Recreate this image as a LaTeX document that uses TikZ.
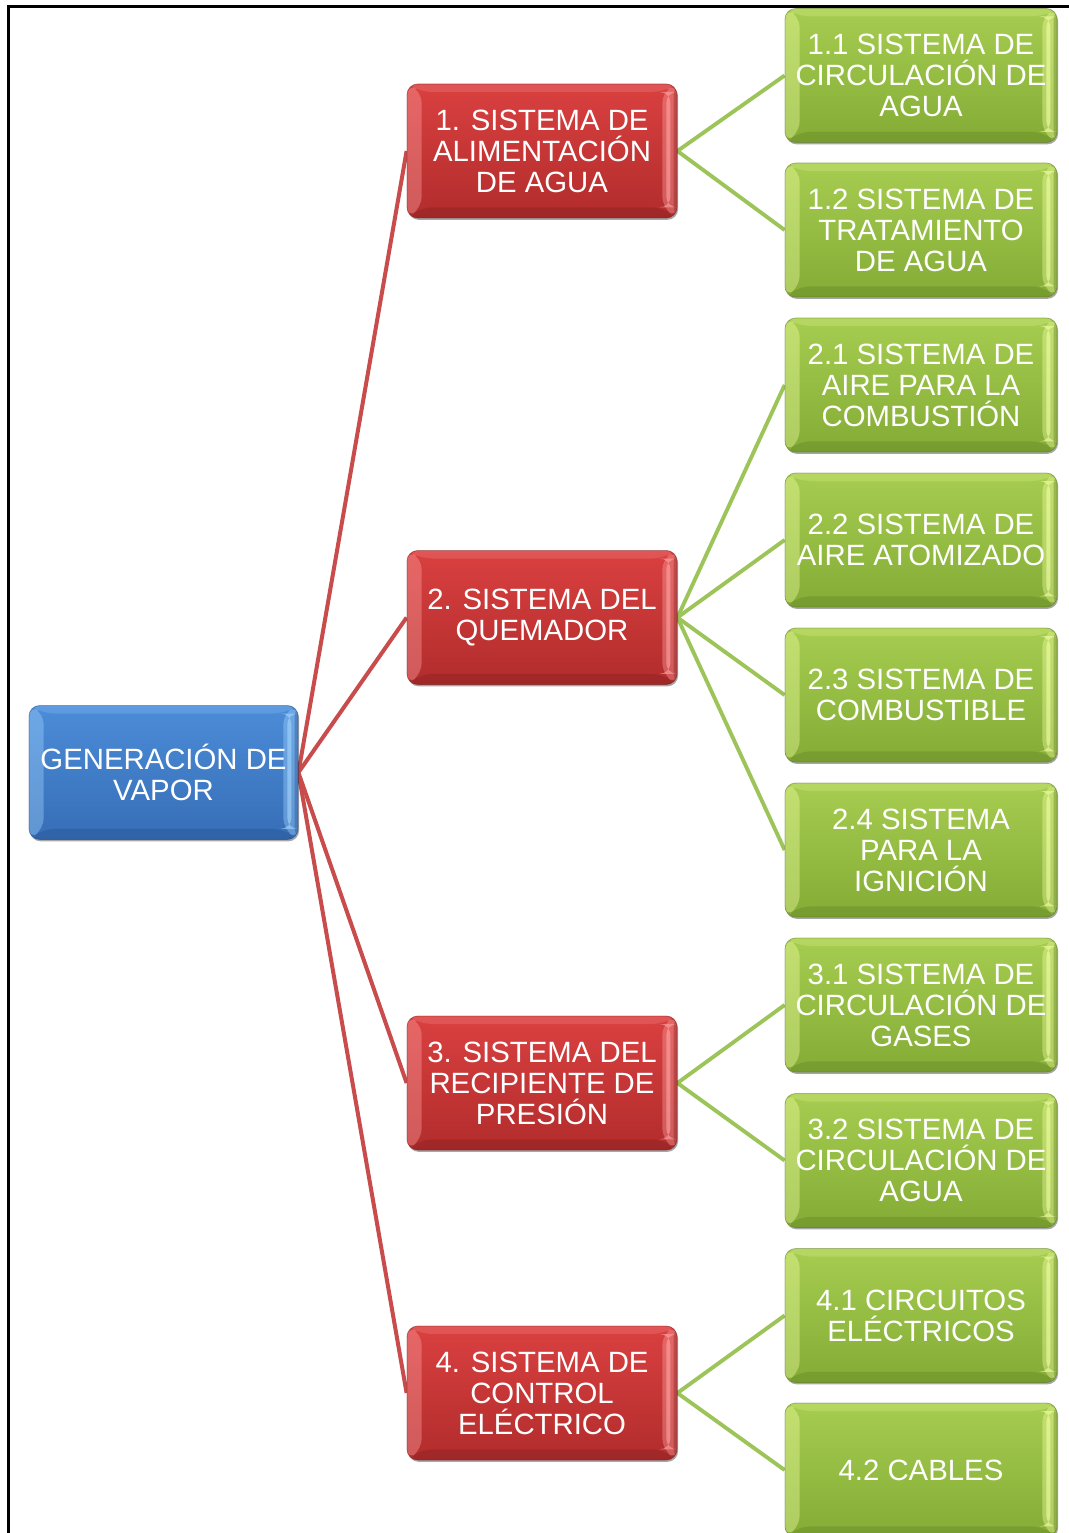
\documentclass[tikz,border=0pt]{standalone}
\usepackage{fontspec}
\setmainfont{Liberation Sans}
\usetikzlibrary{shadows,backgrounds}

\definecolor{bluetop}{RGB}{76,140,216}
\definecolor{bluebot}{RGB}{54,110,182}
\definecolor{bluehl}{RGB}{160,210,252}
\definecolor{bluedk}{RGB}{30,70,130}
\definecolor{redtop}{RGB}{218,64,64}
\definecolor{redbot}{RGB}{178,44,44}
\definecolor{redhl}{RGB}{252,160,160}
\definecolor{reddk}{RGB}{115,28,28}
\definecolor{greentop}{RGB}{166,205,80}
\definecolor{greenbot}{RGB}{132,172,54}
\definecolor{greenhl}{RGB}{238,252,160}
\definecolor{greendk}{RGB}{85,115,28}
\definecolor{redline}{RGB}{200,76,76}
\definecolor{greenline}{RGB}{156,196,88}

\tikzset{
  x=0.75pt, y=-0.75pt,
  % bevelled, shaded box: top colour, bottom colour, highlight, dark edge
  bevel/.style n args={4}{
    rounded corners=8pt, top color=#1, bottom color=#2,
    draw=#4, draw opacity=0.45, line width=0.6pt,
    minimum height=100.5pt, inner sep=0pt, align=center, text=white,
    font=\fontsize{22}{23.25}\selectfont,
    drop shadow={shadow xshift=0.8pt, shadow yshift=-1.4pt, opacity=0.35, fill=black},
    path picture={
      \path (path picture bounding box.north west) coordinate (pNW)
            (path picture bounding box.north east) coordinate (pNE)
            (path picture bounding box.south west) coordinate (pSW)
            (path picture bounding box.south east) coordinate (pSE);
      \fill[#3, opacity=0.22] (pNW) -- (pNE) -- ([shift={(-11pt,-6pt)}]pNE)
            -- ([shift={(11pt,-6pt)}]pNW) -- cycle;
      \fill[#3, opacity=0.40] (pNW) -- (pSW) -- ([shift={(11pt,8pt)}]pSW)
            -- ([shift={(11pt,-6pt)}]pNW) -- cycle;
      \fill[#4, opacity=0.28] (pSW) -- (pSE) -- ([shift={(-11pt,8pt)}]pSE)
            -- ([shift={(11pt,8pt)}]pSW) -- cycle;
      \fill[#3, opacity=0.40] (pNE) -- (pSE) -- ([shift={(-11pt,8pt)}]pSE)
            -- ([shift={(-11pt,-6pt)}]pNE) -- cycle;
      \fill[#3, opacity=0.65] ([shift={(-8pt,-6pt)}]pNE) rectangle ([shift={(-5pt,8pt)}]pSE);
      \fill[#4, opacity=0.35] ([xshift=-2.5pt]pNE) rectangle (pSE);
    }},
  rootbox/.style={bevel={bluetop}{bluebot}{bluehl}{bluedk}, minimum width=201.75pt},
  sysbox/.style={bevel={redtop}{redbot}{redhl}{reddk}, minimum width=202.5pt},
  subbox/.style={bevel={greentop}{greenbot}{greenhl}{greendk}, minimum width=204pt},
  redlink/.style={draw=redline, line width=3pt},
  greenlink/.style={draw=greenline, line width=2.9pt},
}

\begin{document}
\begin{tikzpicture}
\useasboundingbox (0,0) rectangle (1068,1533);

% frame: top and left rule
\draw[line width=2.4pt, line join=miter] (8.5,1540) -- (8.5,6.5) -- (1075,6.5);

% root
\node[rootbox] (root) at (163.5,772.5) {GENERACIÓN DE\\VAPOR};

% main systems
\node[sysbox] (s1) at (542,151)    {1. SISTEMA DE\\ALIMENTACIÓN\\DE AGUA};
\node[sysbox] (s2) at (542,617.5)  {2. SISTEMA DEL\\QUEMADOR};
\node[sysbox] (s3) at (542,1083)   {3. SISTEMA DEL\\RECIPIENTE DE\\PRESIÓN};
\node[sysbox] (s4) at (542,1393)   {4. SISTEMA DE\\CONTROL\\ELÉCTRICO};

% subsystems
\node[subbox] (s11) at (921,75.5)   {1.1 SISTEMA DE\\CIRCULACIÓN DE\\AGUA};
\node[subbox] (s12) at (921,230)    {1.2 SISTEMA DE\\TRATAMIENTO\\DE AGUA};
\node[subbox] (s21) at (921,385)    {2.1 SISTEMA DE\\AIRE PARA LA\\COMBUSTIÓN};
\node[subbox] (s22) at (921,540)    {2.2 SISTEMA DE\\AIRE ATOMIZADO};
\node[subbox] (s23) at (921,695)    {2.3 SISTEMA DE\\COMBUSTIBLE};
\node[subbox] (s24) at (921,850)    {2.4 SISTEMA\\PARA LA\\IGNICIÓN};
\node[subbox] (s31) at (921,1005)   {3.1 SISTEMA DE\\CIRCULACIÓN DE\\GASES};
\node[subbox] (s32) at (921,1160.5) {3.2 SISTEMA DE\\CIRCULACIÓN DE\\AGUA};
\node[subbox] (s41) at (921,1315.5) {4.1 CIRCUITOS\\ELÉCTRICOS};
\node[subbox] (s42) at (921,1470)   {4.2 CABLES};

% connectors behind the boxes
\begin{scope}[on background layer]
  \foreach \t in {s1,s2,s3,s4}
    \draw[redlink] (root.east) -- (\t.west);
  \foreach \a/\b in {s1/s11, s1/s12, s2/s21, s2/s22, s2/s23, s2/s24,
                     s3/s31, s3/s32, s4/s41, s4/s42}
    \draw[greenlink] (\a.east) -- (\b.west);
\end{scope}
\end{tikzpicture}
\end{document}
